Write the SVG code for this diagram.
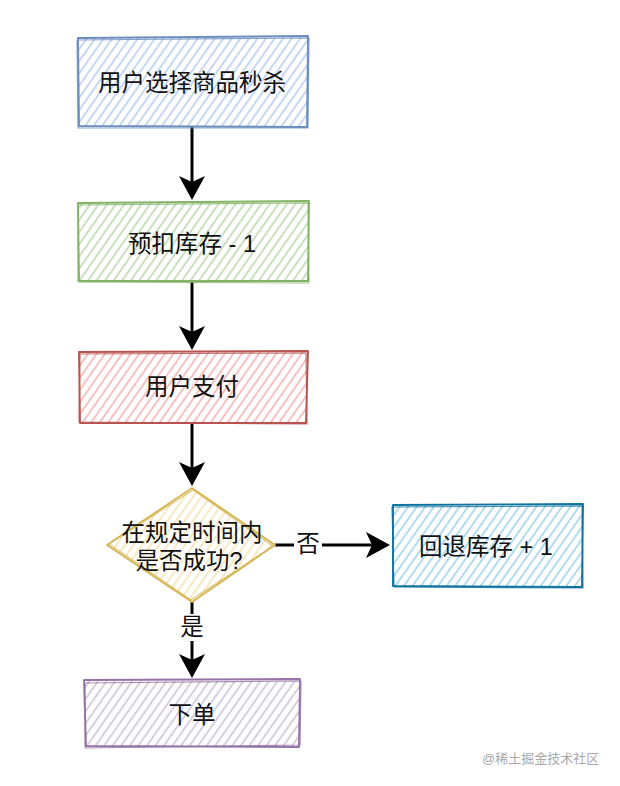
<svg xmlns="http://www.w3.org/2000/svg" width="620" height="786" viewBox="0 0 620 786">
<defs>
<style>
.lbl{font-family:"Liberation Sans","Noto Sans CJK SC",sans-serif;font-size:23.5px;fill:#111;text-anchor:middle;dominant-baseline:central}
.edge{stroke:#000;stroke-width:3;fill:none}
.o1{fill:none;stroke-width:1.9;stroke-linejoin:round}
.o2{fill:none;stroke-width:1.2;stroke-linejoin:round;opacity:.8}
.wm{font-family:"Liberation Sans","Noto Sans CJK SC",sans-serif;font-size:13px;fill:#a8a8a8}
</style>
<pattern id="hBlue" width="7" height="7" patternUnits="userSpaceOnUse" patternTransform="rotate(35)"><line x1="2" y1="0" x2="2" y2="7" stroke="#b7cdef" stroke-width="1.6"/></pattern>
<pattern id="hGreen" width="7" height="7" patternUnits="userSpaceOnUse" patternTransform="rotate(35)"><line x1="2" y1="0" x2="2" y2="7" stroke="#bcd9b0" stroke-width="1.6"/></pattern>
<pattern id="hRed" width="7" height="7" patternUnits="userSpaceOnUse" patternTransform="rotate(35)"><line x1="2" y1="0" x2="2" y2="7" stroke="#f3b3b1" stroke-width="1.6"/></pattern>
<pattern id="hYellow" width="7" height="7" patternUnits="userSpaceOnUse" patternTransform="rotate(35)"><line x1="2" y1="0" x2="2" y2="7" stroke="#f6e2b4" stroke-width="1.6"/></pattern>
<pattern id="hCyan" width="7" height="7" patternUnits="userSpaceOnUse" patternTransform="rotate(35)"><line x1="2" y1="0" x2="2" y2="7" stroke="#9dd3ea" stroke-width="1.6"/></pattern>
<pattern id="hPurple" width="7" height="7" patternUnits="userSpaceOnUse" patternTransform="rotate(35)"><line x1="2" y1="0" x2="2" y2="7" stroke="#cfc3d6" stroke-width="1.6"/></pattern>
<marker id="arr" viewBox="0 0 24 26" refX="6" refY="13" markerWidth="24" markerHeight="26" markerUnits="userSpaceOnUse" orient="auto">
<path d="M0,0 L24,13 L0,26 L6,13 Z" fill="#000"/>
</marker>
</defs>
<rect width="620" height="786" fill="#fff"/>

<g id="connectors">
<line class="edge" x1="192" y1="127" x2="192" y2="182" marker-end="url(#arr)"/>
<line class="edge" x1="192" y1="281" x2="192" y2="332" marker-end="url(#arr)"/>
<line class="edge" x1="192" y1="423" x2="192" y2="468" marker-end="url(#arr)"/>
<line class="edge" x1="275" y1="545" x2="294" y2="545"/>
<line class="edge" x1="322" y1="545" x2="372" y2="545" marker-end="url(#arr)"/>
<text class="lbl" x="308" y="544">否</text>
<line class="edge" x1="192" y1="602" x2="192" y2="614"/>
<line class="edge" x1="192" y1="641" x2="192" y2="660" marker-end="url(#arr)"/>
<text class="lbl" x="192" y="627">是</text>
</g>

<g id="node-select">
<rect x="79" y="38" width="229" height="89" fill="url(#hBlue)"/>
<path class="o1" stroke="#6c8ebf" d="M78,38 L308,36 L307,127 L79,126 Z"/>
<path class="o2" stroke="#6c8ebf" d="M77,40 L309,38 L308,128 L78,128 Z"/>
<text class="lbl" x="192" y="83">用户选择商品秒杀</text>
</g>

<g id="node-reserve">
<rect x="79" y="203" width="229" height="79" fill="url(#hGreen)"/>
<path class="o1" stroke="#82b366" d="M78,203 L309,201 L308,281 L79,281 Z"/>
<path class="o2" stroke="#82b366" d="M78,205 L308,203 L309,283 L78,282 Z"/>
<text class="lbl" x="192" y="244">预扣库存 - 1</text>
</g>

<g id="node-pay">
<rect x="80" y="352" width="227" height="71" fill="url(#hRed)"/>
<path class="o1" stroke="#b85450" d="M79,352 L308,351 L306,423 L80,423 Z"/>
<path class="o2" stroke="#b85450" d="M80,354 L306,353 L307,424 L79,422 Z"/>
<text class="lbl" x="192" y="387">用户支付</text>
</g>

<g id="node-check">
<polygon points="192,489 274,545 192,601 108,545" fill="url(#hYellow)"/>
<path class="o1" stroke="#d6b656" d="M192,488 L275,545 L192,602 L107,545 Z"/>
<path class="o2" stroke="#d6b656" d="M193,490 L273,546 L191,600 L109,544 Z"/>
<text class="lbl" x="192" y="533">在规定时间内</text>
<text class="lbl" x="189" y="561">是否成功?</text>
</g>

<g id="node-rollback">
<rect x="393" y="505" width="189" height="82" fill="url(#hCyan)"/>
<path class="o1" stroke="#10739e" d="M393,505 L583,504 L582,587 L393,586 Z"/>
<path class="o2" stroke="#10739e" d="M392,507 L582,506 L583,588 L394,587 Z"/>
<text class="lbl" x="486" y="547">回退库存 + 1</text>
</g>

<g id="node-order">
<rect x="85" y="681" width="215" height="66" fill="url(#hPurple)"/>
<path class="o1" stroke="#9673a6" d="M84,680 L300,679 L299,747 L86,746 Z"/>
<path class="o2" stroke="#9673a6" d="M85,683 L301,681 L300,745 L85,748 Z"/>
<text class="lbl" x="192" y="715">下单</text>
</g>

<text class="wm" x="482" y="763">@稀土掘金技术社区</text>
</svg>
